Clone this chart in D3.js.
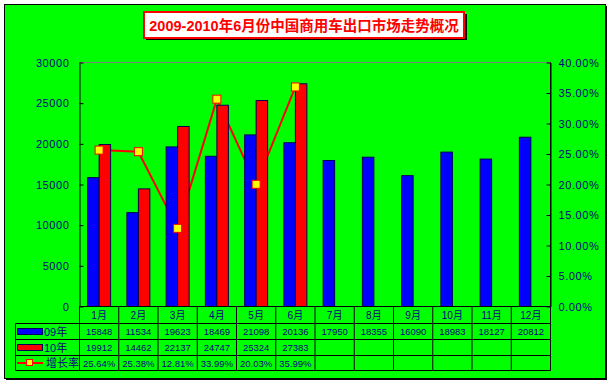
<!DOCTYPE html>
<html><head><meta charset="utf-8">
<script src="https://cdn.jsdelivr.net/npm/d3@7"></script>
<style>body{margin:0;background:#fff;}svg{display:block;}</style>
</head><body>
<svg id="c" width="612" height="384"></svg>
<script>
const title = "2009-2010年6月份中国商用车出口市场走势概况";
const months = ["1月","2月","3月","4月","5月","6月","7月","8月","9月","10月","11月","12月"];
const seriesNames = ["09年","10年","增长率"];
const sales09 = [15848,11534,19623,18469,21098,20136,17950,18355,16090,18983,18127,20812];
const sales10 = [19912,14462,22137,24747,25324,27383];
const growth = [25.64,25.38,12.81,33.99,20.03,35.99];
const leftTicks = [0,5000,10000,15000,20000,25000,30000];
const rightTicks = [0,5,10,15,20,25,30,35,40];

const svg = d3.select("#c");
const FONT = "'Liberation Sans', Arial, 'Noto Sans CJK SC', sans-serif";
const NAVY = "#000080";
const L = 79.5, R = 550.5, T = 62.5, B = 306.5;

// frame
svg.append("rect").attr("x",6).attr("y",6).attr("width",601).attr("height",374).attr("fill","#000");
svg.append("rect").attr("x",4.5).attr("y",4.5).attr("width",601).attr("height",374)
  .attr("fill","#00ff00").attr("stroke","#000").attr("stroke-width",1);

// title
svg.append("rect").attr("x",146).attr("y",14).attr("width",321).attr("height",26).attr("fill","#000");
svg.append("rect").attr("x",144).attr("y",12).attr("width",320).attr("height",26)
  .attr("fill","#fff").attr("stroke","#ff0000").attr("stroke-width",2);
svg.append("text").attr("x",304).attr("y",26).attr("text-anchor","middle").attr("dominant-baseline","central")
  .attr("font-family",FONT).attr("font-weight","bold").attr("font-size",14.5).attr("fill","#ff0000").text(title);

const x = d3.scaleBand().domain(months).range([L,R]).paddingInner(0).paddingOuter(0);
const y = d3.scaleLinear().domain([0,30000]).range([B,T]);
const y2 = d3.scaleLinear().domain([0,40]).range([B,T]);
const bw = 11.5;

// top gridline
svg.append("line").attr("x1",L).attr("x2",R).attr("y1",y(30000)).attr("y2",y(30000)).attr("stroke","#808080");

// line (drawn below bars)
const gx = (i)=> x(months[i]) + x.bandwidth()/2;
svg.append("path").datum(growth)
  .attr("d", d3.line().x((d,i)=>gx(i)).y(d=>y2(d)))
  .attr("fill","none").attr("stroke","#ff0000").attr("stroke-width",2);

// bars
svg.selectAll(".b09").data(sales09).join("rect")
  .attr("x",(d,i)=>gx(i)-bw).attr("y",d=>y(d)).attr("width",bw).attr("height",d=>B-y(d))
  .attr("fill","#0000ff").attr("stroke","#000050").attr("stroke-width",1);
svg.selectAll(".b10").data(sales10).join("rect")
  .attr("x",(d,i)=>gx(i)).attr("y",d=>y(d)).attr("width",bw).attr("height",d=>B-y(d))
  .attr("fill","#ff0000").attr("stroke","#000050").attr("stroke-width",1);

// markers
svg.selectAll(".mk").data(growth).join("rect")
  .attr("x",(d,i)=>gx(i)-4).attr("y",d=>y2(d)-4).attr("width",8).attr("height",8)
  .attr("fill","#ffff00").attr("stroke","#ff0000").attr("stroke-width",1);

// axes
const yAxis = d3.axisLeft(y).tickValues(leftTicks).tickSizeInner(-4).tickSizeOuter(0).tickPadding(10).tickFormat(d3.format("d"));
const ga = svg.append("g").attr("transform",`translate(${L},0)`).call(yAxis);
const y2Axis = d3.axisRight(y2).tickValues(rightTicks).tickSizeInner(-4).tickSizeOuter(0).tickPadding(8).tickFormat(d=>d.toFixed(2)+"%");
const gb = svg.append("g").attr("transform",`translate(${R},0)`).call(y2Axis);
[ga,gb].forEach(g=>{
  g.select(".domain").attr("stroke","#000");
  g.selectAll(".tick line").attr("stroke","#000");
  g.selectAll("text").attr("fill",NAVY).attr("font-family",FONT).attr("font-size",11).attr("letter-spacing","0.6px");
});

// table
const rowsY = [306.5, 323.5, 339.5, 355.5, 370.5];
const TL = 15.5;
const tg = svg.append("g").attr("stroke","#000").attr("stroke-width",1);
tg.append("line").attr("x1",L).attr("x2",R).attr("y1",rowsY[0]).attr("y2",rowsY[0]);
for (let r=1;r<rowsY.length;r++) tg.append("line").attr("x1",TL).attr("x2",R).attr("y1",rowsY[r]).attr("y2",rowsY[r]);
tg.append("line").attr("x1",TL).attr("x2",TL).attr("y1",rowsY[1]).attr("y2",rowsY[4]);
months.forEach((m,i)=>{
  tg.append("line").attr("x1",x(m)).attr("x2",x(m)).attr("y1",rowsY[0]).attr("y2",rowsY[4]);
});
tg.append("line").attr("x1",R).attr("x2",R).attr("y1",T).attr("y2",rowsY[4]);

const tt = svg.append("g").attr("font-family",FONT).attr("font-size",9.5).attr("fill",NAVY)
  .attr("text-anchor","middle").attr("dominant-baseline","central");
months.forEach((m,i)=>{
  tt.append("text").attr("x",gx(i)).attr("y",(rowsY[0]+rowsY[1])/2).attr("font-size",10).text(m);
});
sales09.forEach((v,i)=>tt.append("text").attr("x",gx(i)).attr("y",(rowsY[1]+rowsY[2])/2).text(v));
sales10.forEach((v,i)=>tt.append("text").attr("x",gx(i)).attr("y",(rowsY[2]+rowsY[3])/2).text(v));
growth.forEach((v,i)=>tt.append("text").attr("x",gx(i)).attr("y",(rowsY[3]+rowsY[4])/2).text(v.toFixed(2)+"%"));

// legend keys
const lg = svg.append("g");
lg.append("rect").attr("x",17.5).attr("y",328.5).attr("width",25).attr("height",6).attr("fill","#0000ff").attr("stroke","#000050");
lg.append("rect").attr("x",17.5).attr("y",344.5).attr("width",25).attr("height",6).attr("fill","#ff0000").attr("stroke","#000050");
lg.append("line").attr("x1",17).attr("x2",43).attr("y1",363).attr("y2",363).attr("stroke","#ff0000").attr("stroke-width",2);
lg.append("rect").attr("x",26.5).attr("y",359.5).attr("width",6).attr("height",6).attr("fill","#ffff00").attr("stroke","#ff0000");
seriesNames.forEach((n,i)=>{
  lg.append("text").attr("x",i<2?44:46).attr("y",(rowsY[i+1]+rowsY[i+2])/2).attr("dominant-baseline","central")
    .attr("font-family",FONT).attr("font-size",11).attr("fill",NAVY).text(n);
});
</script>
</body></html>
